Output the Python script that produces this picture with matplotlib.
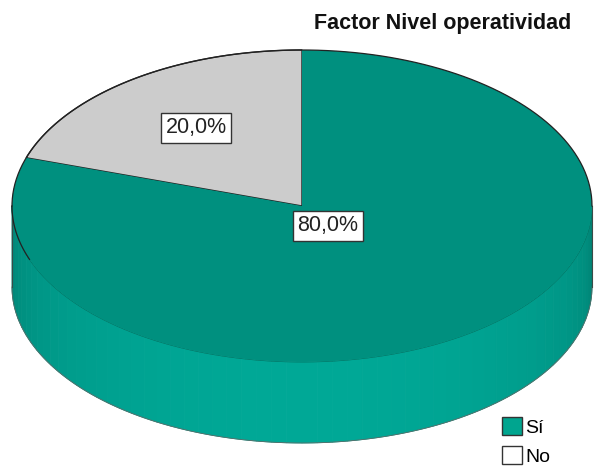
"""3-D style pie chart: Factor Nivel operatividad (SPSS look)."""

import matplotlib

matplotlib.use("Agg")
import matplotlib.pyplot as plt  # noqa: E402
import numpy as np  # noqa: E402
from matplotlib.patches import Polygon, Rectangle  # noqa: E402

plt.rcParams["font.family"] = ["Liberation Sans", "DejaVu Sans"]

TITLE = "Factor Nivel operatividad"
categories = ["Sí", "No"]
percents = [80.0, 20.0]

TOP_COLORS = ["#00907f", "#cccccc"]
SIDE_LIGHT = np.array([0, 168, 150]) / 255
LEGEND_COLORS = ["#00a58f", "#ffffff"]

# pie geometry in pixel units (figure is 595 x 467)
CX, CY, A, B, DEPTH = 302, 206, 290, 156, 81


def rim(t_deg):
    t = np.radians(t_deg)
    return CX + A * np.cos(t), CY - B * np.sin(t)


fig = plt.figure(figsize=(5.95, 4.67), dpi=100)
ax = fig.add_axes([0, 0, 1, 1])
ax.set_xlim(0, 595)
ax.set_ylim(467, 0)
ax.axis("off")

# slice angles: start at 12 o'clock, "No" goes counterclockwise first
fracs = np.array(percents[::-1]) / sum(percents)
order = categories[::-1]
colors_top = TOP_COLORS[::-1]
starts = 90 + 360 * np.concatenate([[0], np.cumsum(fracs)[:-1]])
ends = starts + 360 * fracs

# side wall (front half only), drawn as shaded vertical strips
n_strips = 60
edges = np.linspace(180, 360, n_strips + 1)
for t0, t1 in zip(edges[:-1], edges[1:]):
    tt = np.linspace(t0, t1, 6)
    x, y = rim(tt)
    tm = np.radians((t0 + t1) / 2)
    shade = 0.74 + 0.26 * (-np.sin(tm)) ** 0.6
    col = np.clip(SIDE_LIGHT * shade, 0, 1)
    pts = np.column_stack([np.r_[x, x[::-1]], np.r_[y, y[::-1] + DEPTH]])
    ax.add_patch(Polygon(pts, closed=True, facecolor=col, edgecolor=col, lw=0.6))

# outline of the side
tt = np.linspace(180, 360, 200)
x, y = rim(tt)
ax.plot(x, y + DEPTH, color="#5a6b68", lw=0.6)
ax.plot(x, y, color="#00705f", lw=0.6)
for t_edge in (180, 360):
    xe, ye = rim(t_edge)
    ax.plot([xe, xe], [ye, ye + DEPTH], color="#3a4b48", lw=0.8)

# top face slices
for s, e, c, name in zip(starts, ends, colors_top, order):
    tt = np.linspace(s, e, 200)
    x, y = rim(tt)
    pts = np.column_stack([np.r_[CX, x], np.r_[CY, y]])
    edge = "#222222" if name == "No" else "none"
    ax.add_patch(Polygon(pts, closed=True, facecolor=c, edgecolor=edge, lw=1.0, zorder=3))

# dark rim on the back half
tt = np.linspace(0, 180, 200)
x, y = rim(tt)
ax.plot(x, y, color="#222222", lw=0.9, zorder=4)
tt = np.linspace(180, 200, 30)
x, y = rim(tt)
ax.plot(x, y, color="#222222", lw=0.9, zorder=4)

# percentage labels
box = dict(boxstyle="square,pad=0.2", facecolor="white", edgecolor="#333333", lw=1.0)
mid_no = np.radians((starts[0] + ends[0]) / 2)
ax.text(CX + 0.62 * A * np.cos(mid_no), CY - 0.62 * B * np.sin(mid_no),
        f"{percents[1]:.1f}%".replace(".", ","), ha="center", va="center",
        fontsize=15.5, color="#222222", bbox=box, zorder=5)
ax.text(CX + 26, CY + 20, f"{percents[0]:.1f}%".replace(".", ","),
        ha="center", va="center", fontsize=15.5, color="#222222",
        bbox=box, zorder=5)

# title
fig.text(443 / 595, 1 - 23 / 467, TITLE, ha="center", va="center",
         fontsize=15.5, fontweight="bold", color="#111111")

# legend
handles = [Rectangle((0, 0), 1, 1, facecolor=c, edgecolor="#333333", lw=1.0)
           for c in LEGEND_COLORS]
ax.legend(handles, categories, loc="upper left", bbox_to_anchor=(502 / 595, 1 - 417 / 467),
          frameon=False, prop={"size": 14}, handlelength=1.05,
          handleheight=1.05, handletextpad=0.15, labelspacing=0.5, borderpad=0,
          borderaxespad=0)

fig.savefig("out.png", dpi=100)
plt.close(fig)
